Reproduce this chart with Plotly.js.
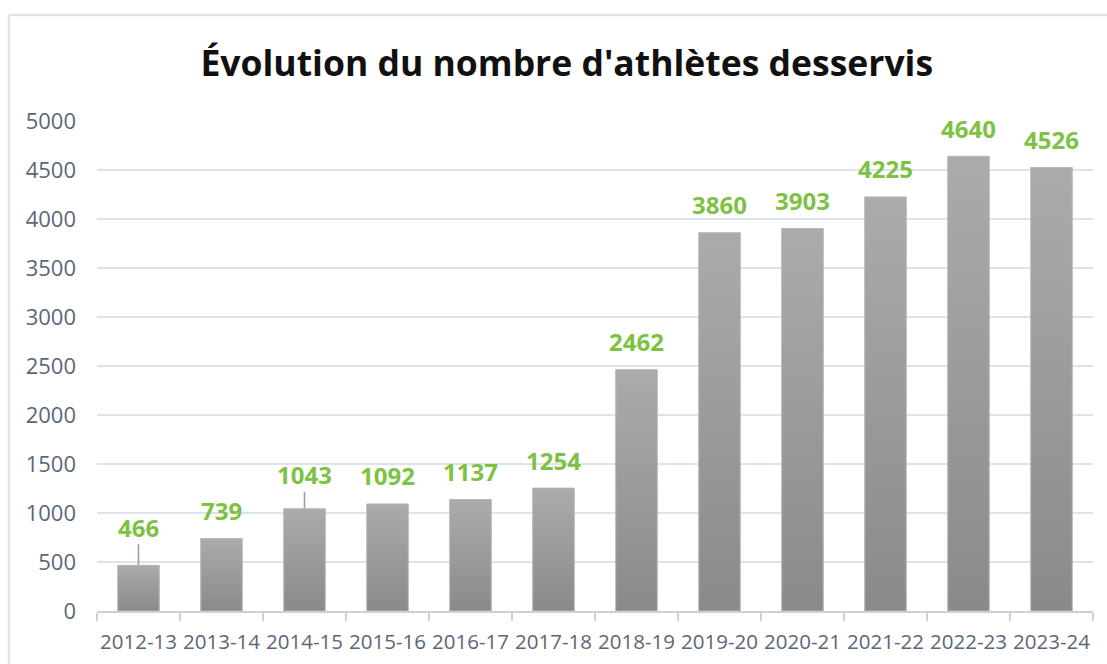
<!DOCTYPE html>
<html>
<head>
<meta charset="utf-8">
<script src="https://cdn.plot.ly/plotly-3.0.1.min.js"></script>
<style>
  html, body { margin: 0; padding: 0; background: #ffffff; }
  #chart { width: 1107px; height: 664px; }
</style>
</head>
<body>
<div id="chart"></div>
<script>
const seasons = ["2012-13","2013-14","2014-15","2015-16","2016-17","2017-18","2018-19","2019-20","2020-21","2021-22","2022-23","2023-24"];
const athletes = [466, 739, 1043, 1092, 1137, 1254, 2462, 3860, 3903, 4225, 4640, 4526];
const yTicks = [0, 500, 1000, 1500, 2000, 2500, 3000, 3500, 4000, 4500, 5000];
const chartTitle = "Évolution du nombre d'athlètes desservis";

const FONT = "Open Sans, Noto Sans, DejaVu Sans, sans-serif";
const GREEN = "#7dc242";
const TICKC = "#5b6678";

// label offsets (px above bar top); two labels are lifted with leader lines
const leaderFor = {"2012-13": -38, "2014-15": -34};

const annotations = seasons.map((s, i) => {
  const lifted = leaderFor[s] !== undefined;
  return {
    x: s, y: athletes[i], xref: "x", yref: "y",
    text: String(athletes[i]),
    showarrow: true,
    arrowhead: 0,
    arrowwidth: lifted ? 1.6 : 0.1,
    arrowcolor: lifted ? "#8fa2bd" : "rgba(0,0,0,0)",
    ax: 0, ay: lifted ? leaderFor[s] : -28,
    standoff: 0,
    font: {family: FONT, size: 24, color: GREEN, weight: 700},
    borderpad: 0
  };
});

const trace = {
  type: "bar",
  x: seasons,
  y: athletes,
  width: 0.5,
  marker: {color: "#9a9a9a", line: {color: "#b5b5b5", width: 1}},
  hoverinfo: "x+y"
};

const layout = {
  width: 1107, height: 664,
  margin: {l: 97, r: 14, t: 121, b: 53, pad: 0},
  paper_bgcolor: "#ffffff",
  plot_bgcolor: "#ffffff",
  showlegend: false,
  title: {
    text: chartTitle,
    font: {family: FONT, size: 35.5, color: "#111111", weight: 700},
    x: 0.512, xref: "container", xanchor: "center",
    y: 0.905, yref: "container", yanchor: "middle"
  },
  xaxis: {
    type: "category",
    showgrid: false,
    showline: true, linecolor: "#c9d1dd", linewidth: 1.5,
    ticks: "outside", tickson: "boundaries", ticklen: 8, tickcolor: "#c9d1dd", tickwidth: 1.5,
    tickfont: {family: FONT, size: 20.5, color: TICKC},
    ticklabelstandoff: 12,
    tickangle: 0,
    fixedrange: true
  },
  yaxis: {
    range: [0, 5000],
    tickvals: yTicks,
    ticktext: yTicks.map(String),
    showgrid: true, gridcolor: "#dde3eb", gridwidth: 1.5,
    zeroline: false, showline: false,
    ticks: "", ticklabelstandoff: 20,
    tickfont: {family: FONT, size: 22, color: TICKC},
    fixedrange: true
  },
  annotations: annotations,
  shapes: [
    {type: "line", xref: "paper", yref: "paper", x0: -0.0884, x1: 1.02, y0: 1.2163, y1: 1.2163,
     line: {color: "#dfe4ec", width: 2.5}},
    {type: "line", xref: "paper", yref: "paper", x0: -0.0884, x1: -0.0884, y0: -0.2, y1: 1.2163,
     line: {color: "#dfe4ec", width: 2.5}}
  ]
};

Plotly.newPlot("chart", [trace], layout, {displayModeBar: false, staticPlot: true}).then(gd => {
  const svg = gd.querySelector(".main-svg");
  const ns = "http://www.w3.org/2000/svg";
  let defs = svg.querySelector("defs");
  if (!defs) { defs = document.createElementNS(ns, "defs"); svg.insertBefore(defs, svg.firstChild); }
  const grad = document.createElementNS(ns, "linearGradient");
  grad.setAttribute("id", "barGrad");
  grad.setAttribute("x1", "0"); grad.setAttribute("y1", "0");
  grad.setAttribute("x2", "0"); grad.setAttribute("y2", "1");
  [["0%", "#ababab"], ["100%", "#8a8a8a"]].forEach(([o, c]) => {
    const st = document.createElementNS(ns, "stop");
    st.setAttribute("offset", o); st.setAttribute("stop-color", c);
    grad.appendChild(st);
  });
  defs.appendChild(grad);
  gd.querySelectorAll(".barlayer .point path").forEach(p => { p.style.fill = "url(#barGrad)"; });
});
</script>
</body>
</html>
